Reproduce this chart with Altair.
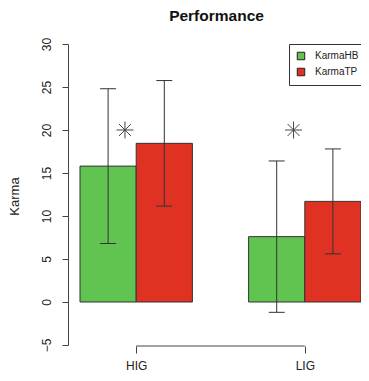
import altair as alt
import pandas as pd

title_text = "Performance"
groups = ["HIG", "LIG"]
series = ["KarmaHB", "KarmaTP"]
means_hb = [15.8, 7.6]
means_tp = [18.45, 11.7]
sd_hb = [9.0, 8.8]
sd_tp = [7.3, 6.1]
colors = ["#61C451", "#DF3223"]
star_x = [1.8, 4.8]
star_y = [20, 20]
y_ticks = [-5, 0, 5, 10, 15, 20, 25, 30]

FONT = "Liberation Sans"

means = {"KarmaHB": means_hb, "KarmaTP": means_tp}
sds = {"KarmaHB": sd_hb, "KarmaTP": sd_tp}
rows = []
for gi, g in enumerate(groups):
    for si, s in enumerate(series):
        left = 1 + 3 * gi + si
        m = means[s][gi]
        sd = sds[s][gi]
        rows.append(dict(group=g, series=s, left=left, right=left + 1,
                         center=left + 0.5, mean=m, lo=m - sd, hi=m + sd))
df = pd.DataFrame(rows)
centers = pd.DataFrame({"group": groups, "pos": [3 * i + 2 for i in range(len(groups))]})
stars = pd.DataFrame({"x": star_x, "y": star_y})

label_expr = " : ".join(
    f"datum.value == {p} ? '{g}'" for g, p in zip(centers["group"], centers["pos"])
) + " : ''"

W, H = 293, 301
xscale = alt.Scale(domain=[0.7865, 6.0], nice=False, zero=False)
yscale = alt.Scale(domain=[-5, 30], nice=False, zero=False)

bars = alt.Chart(df).mark_bar(stroke="#333333", strokeWidth=1).encode(
    x=alt.X("left:Q", scale=xscale,
            axis=alt.Axis(values=list(centers["pos"]), labelExpr=label_expr,
                          domain=False, ticks=True, tickSize=7, tickColor="#444444",
                          offset=1, labelFontSize=12, labelFont=FONT, labelColor="#222222",
                          labelBaseline="alphabetic", labelPadding=16, grid=False,
                          title=None)),
    x2="right:Q",
    y=alt.Y("mean:Q", scale=yscale,
            axis=alt.Axis(values=y_ticks, format="d", tickSize=6, tickColor="#444444",
                          domainColor="#444444", labelAngle=270, labelAlign="center",
                          labelBaseline="alphabetic", labelPadding=12, labelFontSize=12,
                          labelFont=FONT, labelColor="#222222", grid=False,
                          title="Karma", titleFont=FONT, titleFontSize=13,
                          titleFontWeight="normal", titleColor="#222222",
                          titleAngle=270, titleX=-54, titleY=152,
                          titleBaseline="middle", titleAlign="center")),
    y2=alt.datum(0),
    color=alt.Color("series:N",
                    scale=alt.Scale(domain=series, range=colors),
                    legend=alt.Legend(orient="none", legendX=221, legendY=0, title=None,
                                      symbolType="square", symbolSize=56,
                                      symbolStrokeColor="#222222", symbolStrokeWidth=1,
                                      labelFontSize=10, labelFont=FONT, labelColor="#222222",
                                      padding=7, strokeColor="#333333", fillColor="white",
                                      rowPadding=4, labelOffset=9)),
)

err = alt.Chart(df).mark_rule(color="#333333", strokeWidth=1).encode(
    x="center:Q", y="lo:Q", y2="hi:Q"
)
caps_hi = alt.Chart(df).mark_tick(orient="horizontal", size=16, thickness=1,
                                  color="#333333", opacity=1).encode(
    x="center:Q", y="hi:Q"
)
caps_lo = alt.Chart(df).mark_tick(orient="horizontal", size=16, thickness=1,
                                  color="#333333", opacity=1).encode(
    x="center:Q", y="lo:Q"
)

star_path = "M-1,0L1,0M0,-1L0,1M-0.7,-0.7L0.7,0.7M-0.7,0.7L0.7,-0.7"
star = alt.Chart(stars).mark_point(shape=star_path, filled=False, stroke="#444444",
                                   strokeWidth=1, size=289, opacity=1).encode(
    x="x:Q", y="y:Q"
)

bracket = alt.Chart(centers).mark_rule(color="#444444", strokeWidth=1).encode(
    x="min(pos):Q", x2="max(pos):Q", y=alt.value(H + 1)
)

chart = alt.layer(bars, err, caps_hi, caps_lo, star, bracket).properties(
    width=W, height=H,
    autosize=alt.AutoSizeParams(type="none"),
    padding={"left": 60, "top": 36, "right": 0, "bottom": 27},
    background="white",
    title=alt.TitleParams(title_text, fontSize=15.5, fontWeight="bold", font=FONT,
                          anchor="middle", frame="group", offset=13, dx=2,
                          color="#111111"),
).configure_view(stroke=None)

chart.save("out.html", embed_options={"renderer": "svg", "actions": False})
